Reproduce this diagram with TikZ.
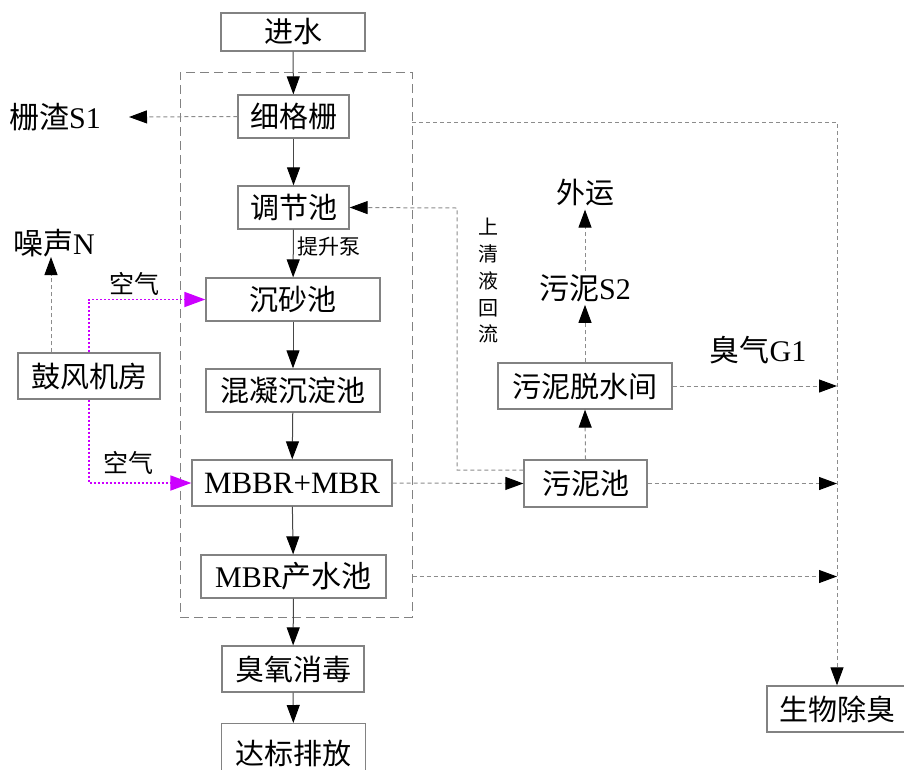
\documentclass[tikz,border=0pt]{standalone}
\usepackage{fontspec}
\setmainfont{Liberation Serif}
\newfontfamily\cjk{Noto Sans CJK SC}
\usetikzlibrary{arrows.meta}
\newcommand\zh[1]{{\cjk #1}}
\definecolor{airc}{RGB}{204,0,255}
\definecolor{boxc}{RGB}{130,130,130}
\definecolor{linec}{RGB}{70,70,70}
\definecolor{dashc}{RGB}{140,140,140}
\begin{document}
\begin{tikzpicture}[x=1pt,y=-1pt,
  box/.style={draw=boxc, line width=1.3pt, inner sep=0pt, minimum height=43pt, font=\fontsize{29}{30}\selectfont},
  lbl/.style={inner sep=3pt, font=\fontsize{29}{30}\selectfont},
  small/.style={inner sep=0pt, font=\fontsize{20}{26.75}\selectfont},
  tip/.style={-{Triangle[length=18pt,width=13pt,color=black]}},
  flow/.style={draw=linec, line width=1pt, tip},
  gdash/.style={draw=dashc, line width=1pt, dash pattern=on 4pt off 3pt, tip},
  air/.style={draw=airc, line width=1.8pt, dash pattern=on 2pt off 2pt, -{Triangle[length=21pt,width=15pt,color=airc]}},
  frame/.style={draw=boxc, line width=1pt, dash pattern=on 9pt off 5pt, inner sep=0pt}
]
\useasboundingbox (0,0) rectangle (904,769);
% frame
\node[frame, minimum width=232pt, minimum height=545pt] (frame) at (296,344.5) {};
% main chain
\node[box, minimum width=144pt, minimum height=38pt] (in) at (293,32) {\zh{进水}};
\node[box, minimum width=111pt] (grid) at (293.5,116.5) {\zh{细格栅}};
\node[box, minimum width=111pt] (adj) at (293.5,207.5) {\zh{调节池}};
\node[box, minimum width=174pt] (grit) at (293,299.5) {\zh{沉砂池}};
\node[box, minimum width=174pt] (coag) at (293,390.5) {\zh{混凝沉淀池}};
\node[box, minimum width=200pt, minimum height=46pt, font=\fontsize{31}{32}\selectfont] (mbbr) at (292,483) {MBBR+MBR};
\node[box, minimum width=185pt, font=\fontsize{30}{31}\selectfont] (prod) at (293.5,576.5) {MBR\zh{产水池}};
\node[box, minimum width=142pt, minimum height=46pt] (ozone) at (293,669) {\zh{臭氧消毒}};
\node[box, minimum width=144pt, minimum height=60pt, anchor=north] (out) at (293.5,723) {\zh{达标排放}};
% left
\node[box, minimum width=142pt, minimum height=46pt] (blower) at (89,376) {\zh{鼓风机房}};
\node[lbl, font=\fontsize{30}{31}\selectfont] (noise) at (54,243) {\zh{噪声}N};
\node[lbl, font=\fontsize{30}{31}\selectfont, anchor=east, inner sep=0pt] (s1) at (101,117) {\zh{栅渣}S1};
\node[small, font=\fontsize{25}{26}\selectfont] (air1) at (134,284) {\zh{空气}};
\node[small, font=\fontsize{25}{26}\selectfont] (air2) at (128,463) {\zh{空气}};
\node[small, font=\fontsize{21}{22}\selectfont, anchor=west] (pump) at (297,247) {\zh{提升泵}};
% right
\node[box, minimum width=123pt, minimum height=47pt] (sludge) at (585.5,483.5) {\zh{污泥池}};
\node[box, minimum width=174pt, minimum height=46pt] (dewater) at (585,386) {\zh{污泥脱水间}};
\node[lbl, font=\fontsize{30}{31}\selectfont] (s2) at (585,288) {\zh{污泥}S2};
\node[lbl] (wy) at (585,193) {\zh{外运}};
\node[lbl, font=\fontsize{30}{31}\selectfont] (g1) at (758,350) {\zh{臭气}G1};
\node[box, minimum width=140pt, minimum height=46pt] (bio) at (837,709) {\zh{生物除臭}};
\node[small, align=center] (ret) at (488,281) {\zh{上}\\\zh{清}\\\zh{液}\\\zh{回}\\\zh{流}};
% solid flow
\draw[flow] (in) -- (grid);
\draw[flow] (grid) -- (adj);
\draw[flow] (adj) -- (grit);
\draw[flow] (grit) -- (coag);
\draw[flow] (coag) -- (mbbr);
\draw[flow] (mbbr) -- (prod);
\draw[flow] (prod) -- (ozone);
\draw[flow] (ozone) -- (out);
% dashed gray
\draw[gdash] (grid.west) -- ([xshift=28pt]s1.east);
\coordinate (nz) at (51,257);
\draw[gdash] (blower.north -| nz) -- (nz);
\coordinate (t1) at (412,122);
\coordinate (t2) at (837,122);
\draw[gdash] (t1) -- (t2) -- (bio.north);
\draw[gdash] (dewater.east) -- (dewater.east -| bio.north);
\draw[gdash] (sludge.east) -- (sludge.east -| bio.north);
\draw[gdash] (prod.east -| frame.east) -- (prod.east -| bio.north);
\draw[gdash] (mbbr.east) -- (sludge.west);
\draw[gdash] (sludge.north) -- (dewater.south);
\draw[gdash] (dewater.north) -- (s2.south);
\draw[gdash] (s2.north) -- (wy.south);
\coordinate (fb) at (457,208);
\draw[gdash] ([yshift=13.5pt]sludge.west) -| (fb) -- (adj.east);
% air
\draw[air] (blower.north) |- (grit.west);
\draw[air] (blower.south) |- (mbbr.west);
\end{tikzpicture}
\end{document}
